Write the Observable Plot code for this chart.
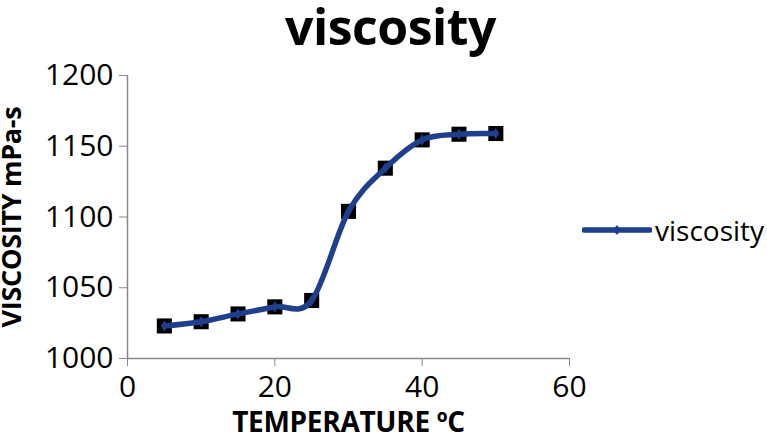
<!DOCTYPE html>
<html>
<head>
<meta charset="utf-8">
<script src="https://cdn.jsdelivr.net/npm/d3@7"></script>
<script src="https://cdn.jsdelivr.net/npm/@observablehq/plot@0.6"></script>
<style>
  html, body { margin: 0; padding: 0; background: #fff; }
  #wrap { position: relative; width: 767px; height: 436px; font-family: "Open Sans", sans-serif; }
  #title { height: 60px; line-height: 52px; text-align: center; font-weight: bold; font-size: 50px; color: #000; padding-left: 14px; box-sizing: border-box; letter-spacing: -0.5px; overflow: visible; }
  #legend { position: absolute; left: 582px; top: 211px; display: flex; align-items: center; font-size: 28px; color: #000; }
  g[aria-label="y-axis label"] text { font-weight: bold; font-size: 27px; letter-spacing: -0.3px; }
  g[aria-label="x-axis label"] text { font-weight: bold; font-size: 28px; letter-spacing: -0.3px; }
</style>
</head>
<body>
<div id="wrap">
  <div id="title"></div>
  <div id="chart"></div>
  <div id="legend"></div>
</div>
<script>
const title = "viscosity";
const seriesName = "viscosity";
const temperature = [5, 10, 15, 20, 25, 30, 35, 40, 45, 50];
const viscosity = [1023, 1026, 1031.5, 1036.5, 1041, 1104, 1134.5, 1154.5, 1158.5, 1159];
const xTicks = [0, 20, 40, 60];
const yTicks = [1000, 1050, 1100, 1150, 1200];
const xLabel = "TEMPERATURE ºC";
const yLabel = "VISCOSITY mPa-s";

const lineColor = "#1f3e8c";
const data = temperature.map((t, i) => ({t, v: viscosity[i]}));

document.getElementById("title").textContent = title;

const fmt = d => String(d);

const chart = Plot.plot({
  width: 767,
  height: 376,
  marginLeft: 127,
  marginRight: 198,
  marginTop: 15,
  marginBottom: 78,
  style: { fontFamily: "Open Sans, sans-serif", fontSize: "30px", color: "#000", background: "#fff", overflow: "visible" },
  x: { domain: [0, 60] },
  y: { domain: [1000, 1200] },
  marks: [
    Plot.axisX({ticks: xTicks, tickFormat: fmt, tickSize: 8, stroke: "#888", color: "#000", fontSize: 30, tickPadding: 9, label: xLabel, labelAnchor: "center", labelOffset: 73, labelArrow: "none"}),
    Plot.axisY({ticks: yTicks, tickFormat: fmt, tickSize: 8, stroke: "#888", color: "#000", fontSize: 30, tickPadding: 6, label: yLabel, labelAnchor: "center", labelOffset: 126, labelArrow: "none"}),
    Plot.ruleX([0], {stroke: "#888", strokeWidth: 1.5}),
    Plot.ruleY([1000], {stroke: "#888", strokeWidth: 1.5}),
    Plot.dot(data, {x: "t", y: "v", symbol: "square", r: 8.5, fill: "#000", stroke: "none"}),
    Plot.line(data, {x: "t", y: "v", curve: "cardinal", stroke: lineColor, strokeWidth: 5.5}),
    Plot.dot(data, {x: "t", y: "v", symbol: "diamond", r: 3.5, fill: lineColor, stroke: "none"})
  ]
});
document.getElementById("chart").appendChild(chart);

// legend
const leg = document.getElementById("legend");
leg.innerHTML = `<svg width="70" height="14" style="margin-right:3px"><line x1="2" y1="7" x2="68" y2="7" stroke="${lineColor}" stroke-width="5.5" stroke-linecap="round"/><path d="M35,2 L39,7 L35,12 L31,7 Z" fill="${lineColor}"/></svg><span>${seriesName}</span>`;
</script>
</body>
</html>
